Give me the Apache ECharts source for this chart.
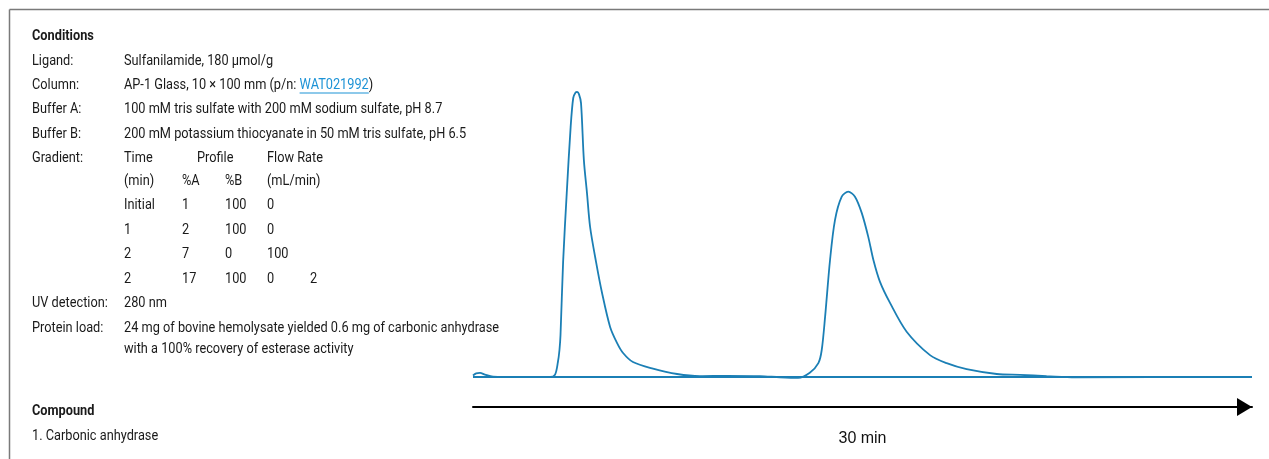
<!DOCTYPE html>
<html>
<head>
<meta charset="utf-8">
<script src="https://cdn.jsdelivr.net/npm/echarts@6/dist/echarts.min.js"></script>
<style>
  html, body { margin: 0; padding: 0; background: #fff; }
  #chart { width: 1269px; height: 459px; }
</style>
</head>
<body>
<div id="chart"></div>
<script>
// ---- Chromatogram data (time in min, detector response in relative units) ----
const timeMin = [0, 0.12, 0.27, 0.46, 0.77, 1.81, 2.97, 3.16, 3.27, 3.33, 3.37, 3.47, 3.61, 3.76, 3.86, 3.95, 4.01, 4.08, 4.16, 4.27, 4.39, 4.51, 4.74, 4.97, 5.28, 5.55, 5.78, 6.16, 6.93, 7.86, 8.74, 9.78, 11.05, 11.82, 12.52, 12.97, 13.30, 13.43, 13.56, 13.75, 13.94, 14.20, 14.45, 14.71, 14.97, 15.22, 15.42, 15.67, 16.06, 16.70, 17.60, 18.24, 19.01, 20.17, 21.07, 22.09, 23.19, 30];
const response = [0.005, 0.012, 0.014, 0.008, 0.001, 0, 0, 0.008, 0.05, 0.09, 0.14, 0.383, 0.613, 0.833, 0.93, 0.948, 0.95, 0.943, 0.913, 0.723, 0.613, 0.5, 0.383, 0.28, 0.167, 0.113, 0.08, 0.05, 0.028, 0.01, 0.003, 0.004, 0.003, -0.001, -0.003, 0.014, 0.046, 0.09, 0.201, 0.39, 0.523, 0.601, 0.618, 0.601, 0.547, 0.468, 0.39, 0.318, 0.247, 0.151, 0.073, 0.046, 0.026, 0.01, 0.007, 0.003, -0.001, 0];
const baselineTime = [0, 30];
const baselineResp = [0, 0];
const peakLabels = [{ time: 14.45, label: '1' }];
const axisName = '30 min';

// ---- Conditions text ----
const conditionsTitle = 'Conditions';
const condLabels = ['Ligand:', 'Column:', 'Buffer A:', 'Buffer B:', 'Gradient:'];
const condValues = ['Sulfanilamide, 180 µmol/g', null, '100 mM tris sulfate with 200 mM sodium sulfate, pH 8.7', '200 mM potassium thiocyanate in 50 mM tris sulfate, pH 6.5'];
const columnPrefix = 'AP-1 Glass, 10 × 100 mm (p/n: ';
const columnLink = 'WAT021992';
const columnSuffix = ')';
const gradientHeader1 = ['Time', 'Profile', 'Flow Rate'];
const gradientHeader2 = ['(min)', '%A', '%B', '(mL/min)'];
const gradientRows = [
  ['Initial', '1', '100', '0', ''],
  ['1', '2', '100', '0', ''],
  ['2', '7', '0', '100', ''],
  ['2', '17', '100', '0', '2']
];
const uvLabel = 'UV detection:';
const uvValue = '280 nm';
const loadLabel = 'Protein load:';
const loadValue = ['24 mg of bovine hemolysate yielded 0.6 mg of carbonic anhydrase', 'with a 100% recovery of esterase activity'];
const compoundTitle = 'Compound';
const compounds = ['1. Carbonic anhydrase'];

// ---- Layout / style ----
const FONT_FAMILY = "Roboto, 'Noto Sans', sans-serif";
const FS = 15;
const TXT = '#1a1a1a';
const BLUE = '#1b7fb5';
const LINK = '#1d93d6';

const ctx = document.createElement('canvas').getContext('2d');
function measure(t, weight) {
  ctx.font = (weight || 'normal') + ' ' + FS + 'px ' + FONT_FAMILY;
  return ctx.measureText(t).width;
}
// horizontal condensing so the long line spans the same width as the reference (124 -> 499 px)
const SX = 375 / measure(loadValue[0]);

const graphics = [];
function txt(x, y, text, opts) {
  opts = opts || {};
  graphics.push({
    type: 'text', x: x, y: y, scaleX: SX, silent: true,
    style: {
      text: text, fill: opts.fill || TXT,
      font: (opts.weight || 'normal') + ' ' + FS + 'px ' + FONT_FAMILY,
      verticalAlign: 'middle', align: 'left'
    }
  });
}
// frame
graphics.push({ type: 'line', silent: true, shape: { x1: 9.5, y1: 9.5, x2: 1269, y2: 9.5 }, style: { stroke: '#7a7a7a', lineWidth: 1.5 } });
graphics.push({ type: 'line', silent: true, shape: { x1: 9.5, y1: 9.5, x2: 9.5, y2: 459 }, style: { stroke: '#7a7a7a', lineWidth: 1.5 } });

const LX = 32, VX = 124;
const rowY = [61, 85, 109, 134, 158];
txt(LX, 36, conditionsTitle, { weight: 'bold' });
condLabels.forEach((l, i) => txt(LX, rowY[i], l));
condValues.forEach((v, i) => { if (v) txt(VX, rowY[i], v); });
// column line with link
txt(VX, rowY[1], columnPrefix);
const linkX = VX + measure(columnPrefix) * SX;
const linkW = measure(columnLink) * SX;
txt(linkX, rowY[1], columnLink, { fill: LINK });
txt(linkX + linkW, rowY[1], columnSuffix);
graphics.push({ type: 'line', silent: true, shape: { x1: linkX, y1: rowY[1] + 8, x2: linkX + linkW, y2: rowY[1] + 8 }, style: { stroke: LINK, lineWidth: 1.2 } });
// gradient table
const gCols = [124, 182, 225, 267, 310];
txt(gCols[0], rowY[4], gradientHeader1[0]);
txt(197, rowY[4], gradientHeader1[1]);
txt(gCols[3], rowY[4], gradientHeader1[2]);
gradientHeader2.forEach((h, i) => txt(gCols[i], 181, h));
const gRowY = [205, 230, 254, 279];
gradientRows.forEach((r, ri) => r.forEach((c, ci) => { if (c) txt(gCols[ci], gRowY[ri], c); }));
txt(LX, 303, uvLabel); txt(VX, 303, uvValue);
txt(LX, 328, loadLabel); txt(VX, 328, loadValue[0]); txt(VX, 349, loadValue[1]);
txt(LX, 411, compoundTitle, { weight: 'bold' });
compounds.forEach((c, i) => txt(LX, 436 + i * 24, c));

const traceData = timeMin.map((t, i) => {
  const pk = peakLabels.find(p => p.time === t);
  if (pk) {
    return { value: [t, response[i]], label: { show: true, position: 'top', distance: 11, formatter: pk.label, fontSize: 19, color: '#111', fontFamily: "'Liberation Sans', Arial, sans-serif" } };
  }
  return [t, response[i]];
});

const chart = echarts.init(document.getElementById('chart'), null, { renderer: 'canvas' });
chart.setOption({
  animation: false,
  backgroundColor: '#fff',
  grid: { left: 473, right: 17, top: 77, bottom: 52, containLabel: false },
  xAxis: {
    type: 'value', min: 0, max: 30,
    name: axisName, nameLocation: 'middle', nameGap: 24,
    nameTextStyle: { fontSize: 16, color: '#111', fontFamily: "'Liberation Sans', Arial, sans-serif" },
    axisLine: { show: true, onZero: false, symbol: ['none', 'triangle'], symbolSize: [18, 15], symbolOffset: [0, -7.5], lineStyle: { color: '#000', width: 2 } },
    axisTick: { show: false }, axisLabel: { show: false }, splitLine: { show: false }
  },
  yAxis: {
    type: 'value', min: -0.1, max: 1.0,
    axisLine: { show: false }, axisTick: { show: false }, axisLabel: { show: false }, splitLine: { show: false }
  },
  series: [
    {
      type: 'line', name: 'baseline', silent: true, showSymbol: false,
      data: baselineTime.map((t, i) => [t, baselineResp[i]]),
      lineStyle: { color: BLUE, width: 1.8 }
    },
    {
      type: 'line', name: 'trace', silent: true, showSymbol: false, smooth: 0.3,
      data: traceData,
      lineStyle: { color: BLUE, width: 1.8 }
    }
  ],
  graphic: graphics
});
</script>
</body>
</html>
